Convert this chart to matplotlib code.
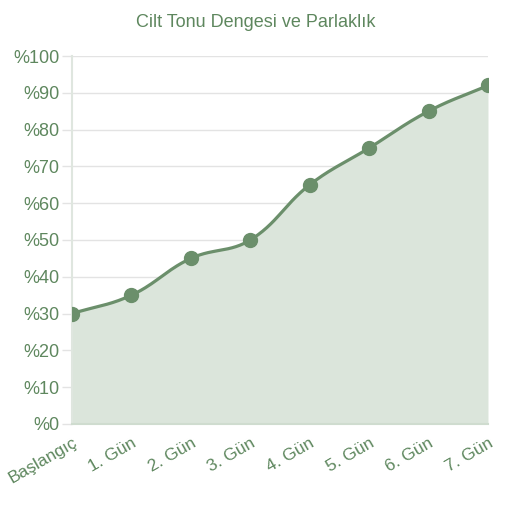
import numpy as np
import matplotlib
matplotlib.use("Agg")
import matplotlib.pyplot as plt
from matplotlib.transforms import ScaledTranslation

# veriler
gunler = ["Başlangıç", "1. Gün", "2. Gün", "3. Gün", "4. Gün", "5. Gün", "6. Gün", "7. Gün"]
degerler = [30, 35, 45, 50, 65, 75, 85, 92]
y_ticks = [0, 10, 20, 30, 40, 50, 60, 70, 80, 90, 100]

cizgi_renk = "#6b8f6b"
dolgu_renk = "#dbe5db"
yazi_renk = "#5e875e"

plt.rcParams['font.family'] = ['Liberation Sans', 'DejaVu Sans']


def spline_egri(x, y, tension=0.4, n=30):
    # Chart.js tarzi bezier egri
    x = np.asarray(x, float)
    y = np.asarray(y, float)
    m = len(x)
    cps = []
    for i in range(m):
        p0 = (x[max(i - 1, 0)], y[max(i - 1, 0)])
        p1 = (x[i], y[i])
        p2 = (x[min(i + 1, m - 1)], y[min(i + 1, m - 1)])
        d01 = np.hypot(p1[0] - p0[0], p1[1] - p0[1])
        d12 = np.hypot(p2[0] - p1[0], p2[1] - p1[1])
        s01 = d01 / (d01 + d12) if d01 + d12 else 0
        s12 = d12 / (d01 + d12) if d01 + d12 else 0
        fa = tension * s01
        fb = tension * s12
        prev = (p1[0] - fa * (p2[0] - p0[0]), p1[1] - fa * (p2[1] - p0[1]))
        nxt = (p1[0] + fb * (p2[0] - p0[0]), p1[1] + fb * (p2[1] - p0[1]))
        cps.append((prev, nxt))
    xs, ys = [], []
    t = np.linspace(0, 1, n)
    for i in range(m - 1):
        a = (x[i], y[i])
        b = cps[i][1]
        c = cps[i + 1][0]
        d = (x[i + 1], y[i + 1])
        bx = (1 - t) ** 3 * a[0] + 3 * (1 - t) ** 2 * t * b[0] + 3 * (1 - t) * t ** 2 * c[0] + t ** 3 * d[0]
        by = (1 - t) ** 3 * a[1] + 3 * (1 - t) ** 2 * t * b[1] + 3 * (1 - t) * t ** 2 * c[1] + t ** 3 * d[1]
        xs.extend(bx)
        ys.extend(by)
    return np.array(xs), np.array(ys)


x = np.arange(len(gunler))
# y eksenini piksel oranina gore olcekle (egri ekranda duzgun olsun)
olcek = (416 / (len(gunler) - 1)) / (368 / 100)
ex, ey = spline_egri(x * olcek, degerler)
ex = ex / olcek

fig = plt.figure(figsize=(5.12, 5.12), dpi=100)
ax = fig.add_axes([0.1406, 0.1719, 0.8125, 0.7187])

ax.fill_between(ex, 0, ey, color=dolgu_renk, lw=0, zorder=1)
ax.plot(ex, ey, color=cizgi_renk, lw=2.3, zorder=3)
ax.plot(x, degerler, 'o', color=cizgi_renk, ms=10, zorder=4)

ax.set_xlim(0, len(gunler) - 1)
ax.set_ylim(0, 100)
ax.set_yticks(y_ticks)
ax.set_yticklabels(["%" + str(v) for v in y_ticks])
ax.set_xticks(x)
ax.set_xticklabels(gunler, rotation=30, ha='right', rotation_mode='anchor')
# etiketleri biraz sola kaydir
kayma = ScaledTranslation(-3 / 72, 0, fig.dpi_scale_trans)
for lbl in ax.get_xticklabels():
    lbl.set_transform(lbl.get_transform() + kayma)

ax.grid(axis='y', color='#e3e3e3', lw=1)
ax.set_axisbelow(True)
for s in ['top', 'right']:
    ax.spines[s].set_visible(False)
ax.spines['left'].set_color('#dfe6df')
ax.spines['left'].set_linewidth(1.5)
ax.spines['bottom'].set_color('#cfdccf')
ax.spines['bottom'].set_linewidth(1.5)
ax.tick_params(axis='y', colors='#e3e3e3', labelcolor=yazi_renk, labelsize=13, length=7, width=1, pad=2)
ax.tick_params(axis='x', length=0, labelcolor=yazi_renk, labelsize=12.5, pad=8)

fig.text(0.5, 0.957, "Cilt Tonu Dengesi ve Parlaklık", ha='center', va='center',
         color=yazi_renk, fontsize=13)

fig.savefig("out.png", dpi=100, facecolor='white')
